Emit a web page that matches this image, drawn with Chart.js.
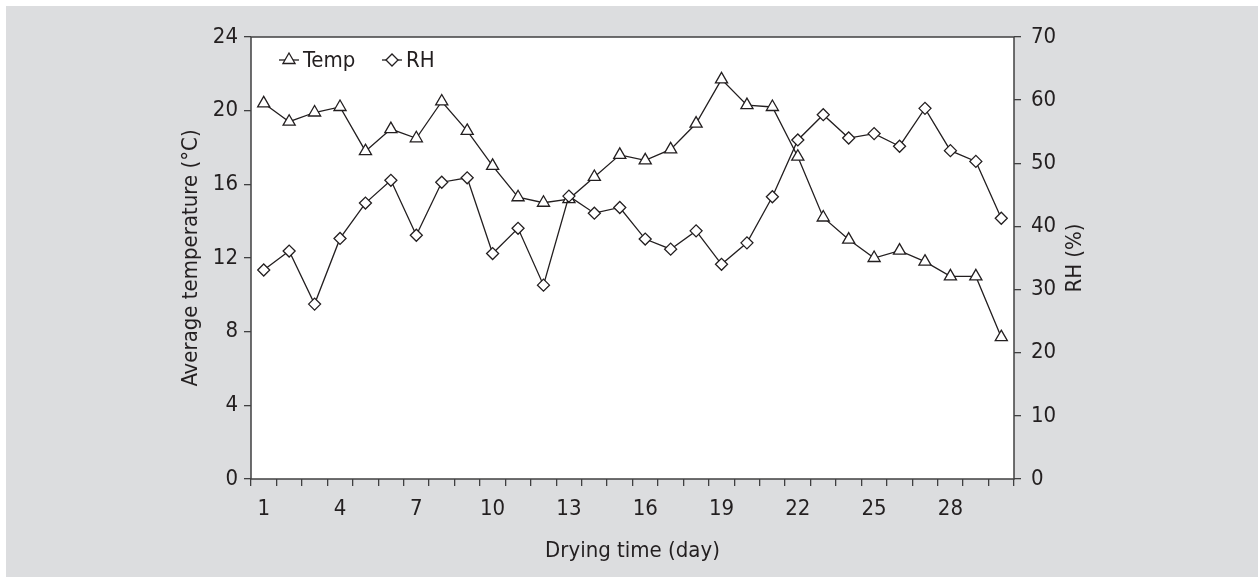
<!DOCTYPE html>
<html>
<head>
<meta charset="utf-8">
<script src="https://cdn.jsdelivr.net/npm/chart.js@4.4.1/dist/chart.umd.min.js"></script>
<style>
  html, body { margin: 0; padding: 0; background: #ffffff; }
  #wrap { position: absolute; left: 6px; top: 6px; width: 1252px; height: 571px; background: #dcdddf; }
</style>
</head>
<body>
<div id="wrap"><canvas id="dryingChart" width="1252" height="571"></canvas></div>
<script>
// Chart data
const days = [1, 2, 3, 4, 5, 6, 7, 8, 9, 10, 11, 12, 13, 14, 15, 16, 17, 18, 19, 20, 21, 22, 23, 24, 25, 26, 27, 28, 29, 30];
const tempValues = [20.4, 19.4, 19.9, 20.2, 17.8, 19.0, 18.5, 20.5, 18.9, 17.0, 15.3, 15.0, 15.2, 16.4, 17.6, 17.3, 17.9, 19.3, 21.7, 20.3, 20.2, 17.5, 14.2, 13.0, 12.0, 12.4, 11.8, 11.0, 11.0, 7.7];
const rhValues = [33.1, 36.1, 27.7, 38.1, 43.7, 47.3, 38.6, 47.0, 47.7, 35.7, 39.7, 30.7, 44.8, 42.1, 43.0, 38.0, 36.4, 39.3, 34.0, 37.4, 44.7, 53.7, 57.7, 54.0, 54.7, 52.7, 58.7, 52.0, 50.3, 41.3];
const rhTitle = 'RH (%)';

const ink = '#231f20';
const axisColor = '#404041';
const fontFamily = "'Liberation Sans Narrow', 'Arial Narrow', 'DejaVu Sans Condensed', sans-serif";
const fontSize = 22;
const tickFont = { family: fontFamily, size: fontSize };

Chart.defaults.font.family = fontFamily;
Chart.defaults.color = ink;

// white plot area + frame, legend inside the plot, right title reading upwards
const plotFrame = {
    id: 'plotFrame',
    beforeDraw(chart) {
        const { ctx, chartArea: a } = chart;
        ctx.save();
        ctx.fillStyle = '#ffffff';
        ctx.fillRect(a.left, a.top, a.right - a.left, a.bottom - a.top);
        ctx.restore();
    },
    afterDraw(chart) {
        const { ctx, chartArea: a } = chart;
        ctx.save();
        ctx.strokeStyle = axisColor;
        ctx.lineWidth = 1.5;
        ctx.strokeRect(a.left, a.top, a.right - a.left, a.bottom - a.top);

        ctx.font = fontSize + "px " + fontFamily;
        ctx.textBaseline = 'middle';

        // legend
        const y = a.top + 23;
        const items = [
            { x: a.left + 28, ds: chart.data.datasets[0] },
            { x: a.left + 131, ds: chart.data.datasets[1] }
        ];
        items.forEach(it => {
            ctx.strokeStyle = ink;
            ctx.lineWidth = 1.3;
            ctx.beginPath();
            ctx.moveTo(it.x, y);
            ctx.lineTo(it.x + 20, y);
            ctx.stroke();
            ctx.fillStyle = '#ffffff';
            Chart.helpers.drawPoint(ctx, {
                pointStyle: it.ds.pointStyle,
                radius: it.ds.pointRadius,
                borderWidth: 1.3
            }, it.x + 10, y);
            ctx.fillStyle = ink;
            ctx.textAlign = 'left';
            ctx.fillText(it.ds.label, it.x + 24, y + 1);
        });

        // right axis title
        const r = chart.scales.y1;
        ctx.translate(r.right - 17, (a.top + a.bottom) / 2);
        ctx.rotate(-Math.PI / 2);
        ctx.textAlign = 'center';
        ctx.fillStyle = ink;
        ctx.fillText(rhTitle, 0, 0);
        ctx.restore();
    }
};

const ctx = document.getElementById('dryingChart').getContext('2d');
const dryingChart = new Chart(ctx, {
    type: 'line',
    data: {
        labels: days,
        datasets: [
            { label: 'Temp', data: tempValues, yAxisID: 'y', order: 2,
              borderColor: ink, borderWidth: 1.3, backgroundColor: '#ffffff',
              pointStyle: 'triangle', pointRadius: 7, pointBorderWidth: 1.3,
              pointBackgroundColor: '#ffffff', pointBorderColor: ink, tension: 0 },
            { label: 'RH', data: rhValues, yAxisID: 'y1', order: 1,
              borderColor: ink, borderWidth: 1.3, backgroundColor: '#ffffff',
              pointStyle: 'rectRot', pointRadius: 6, pointBorderWidth: 1.3,
              pointBackgroundColor: '#ffffff', pointBorderColor: ink, tension: 0 }
        ]
    },
    options: {
        responsive: false,
        animation: false,
        layout: { padding: { left: 168, right: 166, top: 31, bottom: 9 } },
        plugins: {
            legend: { display: false },
            tooltip: { enabled: false }
        },
        scales: {
            x: {
                type: 'category',
                offset: true,
                grid: { offset: true, drawOnChartArea: false, drawTicks: true, tickLength: 7, color: axisColor, lineWidth: 1.3 },
                border: { display: false },
                ticks: {
                    autoSkip: false, maxRotation: 0, minRotation: 0, padding: 10, font: tickFont, color: ink,
                    callback: (v, i) => (i % 3 === 0 ? days[i] : '')
                },
                title: { display: true, text: 'Drying time (day)', font: tickFont, color: ink },
                afterFit: s => { s.height = 89; }
            },
            y: {
                position: 'left', min: 0, max: 24,
                grid: { drawOnChartArea: false, tickLength: 7, color: axisColor, lineWidth: 1.3 },
                border: { display: false },
                ticks: { stepSize: 4, padding: 6, font: tickFont, color: ink },
                title: { display: true, text: 'Average temperature (°C)', font: tickFont, color: ink },
                afterFit: s => { s.width = 77; }
            },
            y1: {
                position: 'right', min: 0, max: 70,
                grid: { drawOnChartArea: false, tickLength: 7, color: axisColor, lineWidth: 1.3 },
                border: { display: false },
                ticks: { stepSize: 10, padding: 10, font: tickFont, color: ink },
                afterFit: s => { s.width = 78; }
            }
        }
    },
    plugins: [plotFrame]
});
</script>
</body>
</html>
